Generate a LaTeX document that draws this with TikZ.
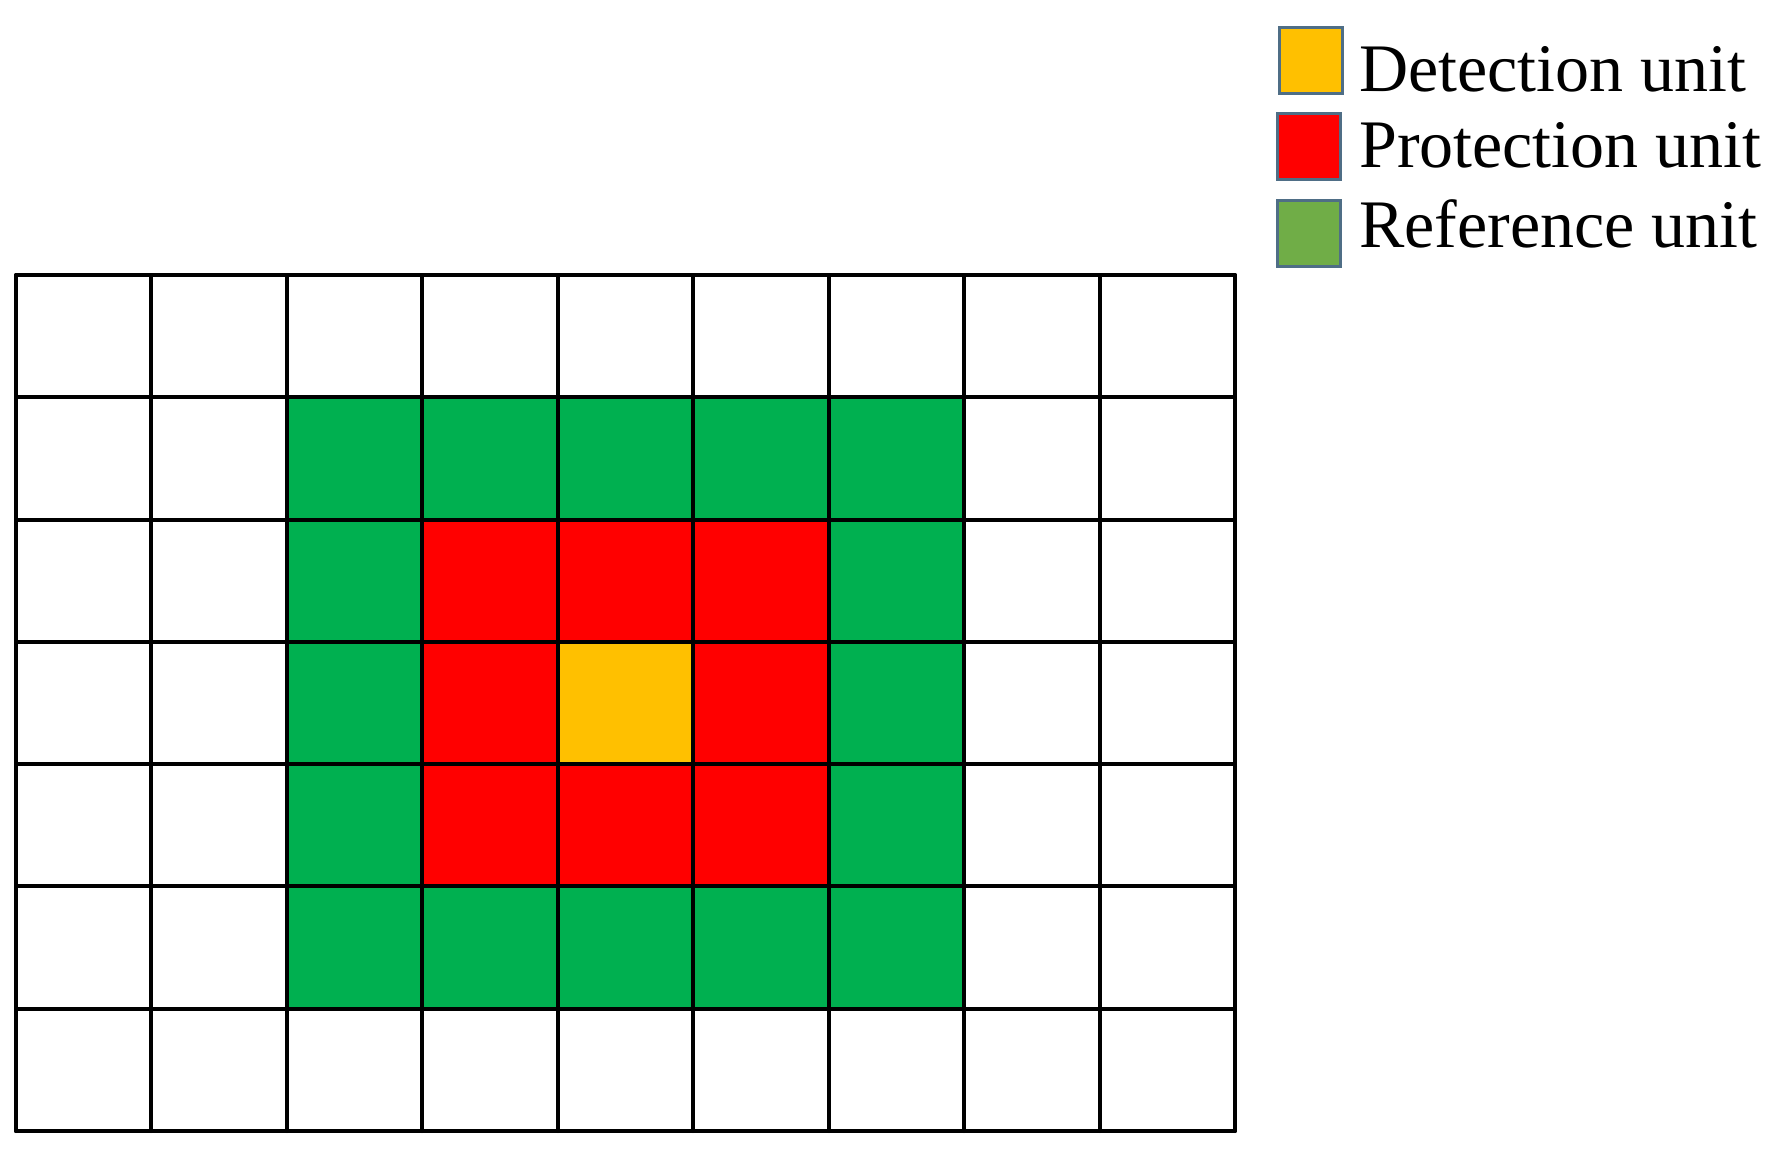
\documentclass[tikz,border=0pt]{standalone}
\usepackage{fontspec}
\setmainfont{Liberation Serif}
\definecolor{cgreen}{HTML}{00B050}
\definecolor{cred}{HTML}{FF0000}
\definecolor{cyellow}{HTML}{FFC000}
\definecolor{lgreen}{HTML}{70AD47}
\definecolor{lborder}{HTML}{4F6E86}
\begin{document}
\begin{tikzpicture}[x=1pt,y=-1pt,
  gridline/.style={line width=4pt,black,line cap=round},
  legbox/.style={draw=lborder,line width=3pt,minimum width=63pt,minimum height=66pt,inner sep=0pt,anchor=north west},
  legtext/.style={anchor=base west,inner sep=0pt,font=\fontsize{68}{68}\selectfont}]
\useasboundingbox (0,0) rectangle (1780,1157);
\def\cw{135.44}
\def\rh{122.29}
\def\xo{16}
\def\yo{275}
% green ring
\fill[cgreen] (\xo+2*\cw,\yo+1*\rh) rectangle (\xo+7*\cw,\yo+6*\rh);
% red block
\fill[cred] (\xo+3*\cw,\yo+2*\rh) rectangle (\xo+6*\cw,\yo+5*\rh);
% yellow centre
\fill[cyellow] (\xo+4*\cw,\yo+3*\rh) rectangle (\xo+5*\cw,\yo+4*\rh);
% grid lines
\foreach \i in {0,...,9} \draw[gridline] (\xo+\i*\cw,\yo) -- (\xo+\i*\cw,\yo+7*\rh);
\foreach \j in {0,...,7} \draw[gridline] (\xo,\yo+\j*\rh) -- (\xo+9*\cw,\yo+\j*\rh);
% legend
\node[legbox,fill=cyellow] (ly) at (1278,26) {};
\node[legbox,fill=cred] (lr) at (1276,112) {};
\node[legbox,fill=lgreen] (lg) at (1276,199) {};
\node[legtext] (ty) at (1359,91) {Detection unit};
\node[legtext] (tr) at (1359,167) {Protection unit};
\node[legtext] (tg) at (1359,247) {Reference unit};
\end{tikzpicture}
\end{document}
